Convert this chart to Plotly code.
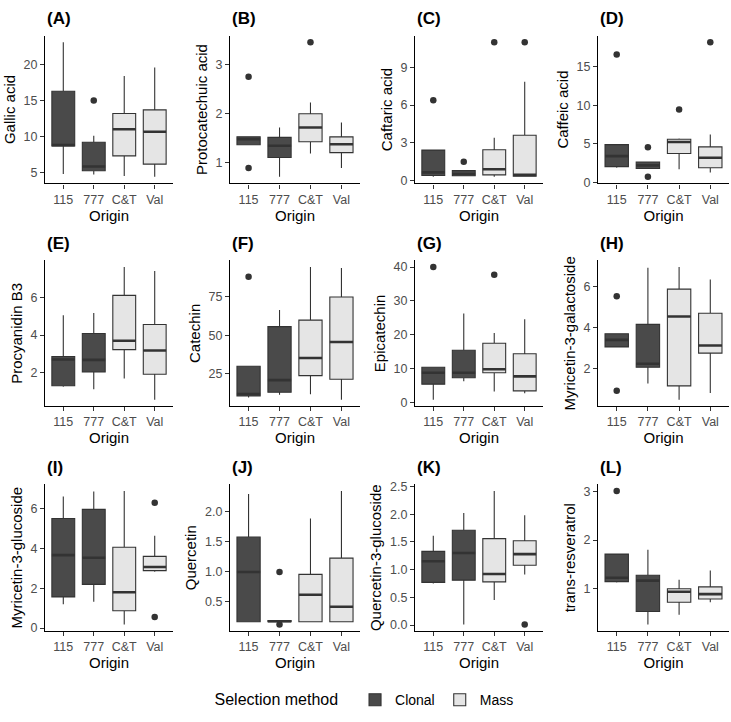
import plotly.graph_objects as go

# ---------------- data ----------------
origins = ["115", "777", "C&T", "Val"]
methods = ["Clonal", "Clonal", "Mass", "Mass"]
compounds = ["Gallic acid", "Protocatechuic acid", "Caftaric acid", "Caffeic acid",
             "Procyanidin B3", "Catechin", "Epicatechin", "Myricetin-3-galactoside",
             "Myricetin-3-glucoside", "Quercetin", "Quercetin-3-glucoside", "trans-resveratrol"]
tags = ["(A)", "(B)", "(C)", "(D)", "(E)", "(F)", "(G)", "(H)", "(I)", "(J)", "(K)", "(L)"]
y_dticks = [5, 1, 3, 5, 2, 25, 10, 2, 2, 0.5, 0.5, 1]
y_formats = ["", "", "", "", "", "", "", "", "", ".1f", ".1f", ""]

# rows: lower whisker, Q1, median, Q3, upper whisker ; columns: 115, 777, C&T, Val
gallic_acid = [[4.8, 4.7, 4.5, 4.4], [8.7, 5.24, 7.3, 6.15], [8.8, 5.83, 11.0, 10.65],
               [16.3, 9.2, 13.2, 13.7], [23.1, 10.1, 18.4, 19.6]]
gallic_acid_out = [(1, 15.0)]

protocatechuic_acid = [[1.37, 0.72, 1.19, 0.9], [1.37, 1.11, 1.43, 1.21], [1.48, 1.35, 1.72, 1.38],
                       [1.53, 1.52, 2.0, 1.53], [1.53, 1.72, 2.23, 1.82]]
protocatechuic_acid_out = [(0, 2.75), (0, 0.9), (2, 3.45)]

caftaric_acid = [[0.3, 0.35, 0.3, 0.3], [0.4, 0.38, 0.45, 0.35], [0.65, 0.52, 0.9, 0.45],
                 [2.42, 0.79, 2.45, 3.6], [2.42, 0.79, 3.4, 7.85]]
caftaric_acid_out = [(0, 6.39), (1, 1.5), (2, 11.0), (3, 11.0)]

caffeic_acid = [[1.9, 1.75, 1.7, 1.28], [2.04, 1.8, 3.74, 1.9], [3.4, 2.2, 5.23, 3.2],
                [4.9, 2.64, 5.6, 4.6], [4.9, 2.65, 5.7, 6.2]]
caffeic_acid_out = [(0, 16.6), (1, 4.55), (1, 0.72), (2, 9.45), (3, 18.2)]

procyanidin_b3 = [[1.27, 1.13, 1.7, 0.58], [1.32, 2.05, 3.23, 1.93], [2.71, 2.69, 3.7, 3.18],
                  [2.87, 4.08, 6.1, 4.56], [5.05, 5.17, 7.6, 7.39]]
procyanidin_b3_out = []

catechin = [[9.9, 11.6, 12.0, 8.4], [10.9, 13.2, 23.9, 21.6], [12.0, 21.0, 35.3, 45.6],
            [30.0, 55.5, 59.7, 74.6], [30.0, 66.2, 93.9, 93.3]]
catechin_out = [(0, 87.6)]

epicatechin = [[0.8, 6.25, 3.2, 2.7], [5.4, 7.3, 8.75, 3.4], [8.75, 8.75, 9.8, 7.7],
               [10.4, 15.4, 17.5, 14.4], [10.4, 26.25, 20.5, 24.6]]
epicatechin_out = [(0, 40.0), (2, 37.7)]

myricetin_3_galactoside = [[3.07, 1.3, 0.51, 0.83], [3.07, 2.08, 1.18, 2.77], [3.41, 2.25, 4.54, 3.14],
                           [3.71, 4.16, 5.87, 4.7], [3.71, 6.91, 6.94, 6.33]]
myricetin_3_galactoside_out = [(0, 5.52), (0, 0.94)]

myricetin_3_glucoside = [[1.2, 1.33, 0.18, 2.84], [1.57, 2.2, 0.87, 2.89], [3.67, 3.54, 1.8, 3.07],
                         [5.51, 5.97, 4.07, 3.61], [6.62, 6.87, 6.9, 4.64]]
myricetin_3_glucoside_out = [(3, 6.3), (3, 0.56)]

quercetin = [[0.17, 0.17, 0.17, 0.17], [0.17, 0.17, 0.17, 0.17], [1.0, 0.18, 0.62, 0.42],
             [1.58, 0.19, 0.96, 1.23], [2.30, 0.19, 1.89, 2.35]]
quercetin_out = [(1, 1.0), (1, 0.125)]

quercetin_3_glucoside = [[0.75, 0.01, 0.45, 0.91], [0.77, 0.81, 0.78, 1.08], [1.15, 1.3, 0.92, 1.28],
                         [1.33, 1.71, 1.56, 1.52], [1.61, 2.02, 2.42, 1.98]]
quercetin_3_glucoside_out = [(3, 0.01)]

trans_resveratrol = [[1.12, 0.25, 0.45, 0.71], [1.14, 0.52, 0.71, 0.78], [1.22, 1.16, 0.93, 0.88],
                     [1.71, 1.27, 0.99, 1.03], [1.71, 1.8, 1.18, 1.37]]
trans_resveratrol_out = [(0, 3.02)]

panel_stats = [gallic_acid, protocatechuic_acid, caftaric_acid, caffeic_acid,
               procyanidin_b3, catechin, epicatechin, myricetin_3_galactoside,
               myricetin_3_glucoside, quercetin, quercetin_3_glucoside, trans_resveratrol]
panel_outliers = [gallic_acid_out, protocatechuic_acid_out, caftaric_acid_out, caffeic_acid_out,
                  procyanidin_b3_out, catechin_out, epicatechin_out, myricetin_3_galactoside_out,
                  myricetin_3_glucoside_out, quercetin_out, quercetin_3_glucoside_out,
                  trans_resveratrol_out]

# ---------------- layout geometry ----------------
W, H = 731, 722
col_px = [(45, 173), (230, 360), (415, 543), (598, 729)]
row_px = [(32, 182), (260, 408), (487, 636)]
FILL = {"Clonal": "#4A4A4A", "Mass": "#E5E5E5"}
LINE = "#333333"
BOXW = 0.75
FONT = "Liberation Sans, Arial, sans-serif"

fig = go.Figure()
layout = dict(width=W, height=H, margin=dict(l=0, r=0, t=0, b=0),
              paper_bgcolor="white", plot_bgcolor="white",
              font=dict(family=FONT, color="black"), showlegend=True)
annotations = []

for i, (stats, outs) in enumerate(zip(panel_stats, panel_outliers)):
    r, c = divmod(i, 4)
    ax = "" if i == 0 else str(i + 1)
    xa, ya = "x" + ax, "y" + ax
    x0, x1 = col_px[c]
    y0, y1 = row_px[r]
    low, q1, med, q3, up = stats
    for m in ["Clonal", "Mass"]:
        idx = [k for k in range(4) if methods[k] == m]
        fig.add_trace(go.Box(
            x=idx, q1=[q1[k] for k in idx], median=[med[k] for k in idx],
            q3=[q3[k] for k in idx], lowerfence=[low[k] for k in idx],
            upperfence=[up[k] for k in idx], width=BOXW, whiskerwidth=0,
            fillcolor=FILL[m], line=dict(color=LINE, width=1.1), boxpoints=False,
            name=m, legendgroup=m, showlegend=(i == 0), xaxis=xa, yaxis=ya,
            hoverinfo="skip"))
    mx, my = [], []
    for k in range(4):
        mx += [k - BOXW / 2, k + BOXW / 2, None]
        my += [med[k], med[k], None]
    fig.add_trace(go.Scatter(x=mx, y=my, mode="lines", line=dict(color=LINE, width=2.6),
                             showlegend=False, xaxis=xa, yaxis=ya, hoverinfo="skip"))
    if outs:
        fig.add_trace(go.Scatter(x=[o[0] for o in outs], y=[o[1] for o in outs], mode="markers",
                                 marker=dict(color=LINE, size=6.5), showlegend=False,
                                 xaxis=xa, yaxis=ya, hoverinfo="skip"))
    vals = [v for row in stats for v in row] + [o[1] for o in outs]
    vmin, vmax = min(vals), max(vals)
    span = vmax - vmin
    yr = [vmin - 0.05 * span, vmax + 0.05 * span]
    common = dict(showgrid=False, zeroline=False, showline=True, linecolor="black",
                  linewidth=1.1, ticks="outside", ticklen=4, tickcolor=LINE, tickwidth=1,
                  tickfont=dict(size=12.5, color="#4D4D4D", family=FONT))
    layout["xaxis" + ax] = dict(common, domain=[x0 / W, x1 / W], anchor=ya,
                                range=[-0.6, 3.6], tickmode="array", tickvals=[0, 1, 2, 3],
                                ticktext=origins,
                                title=dict(text="Origin", font=dict(size=15, color="black"),
                                           standoff=2))
    layout["yaxis" + ax] = dict(common, domain=[1 - y1 / H, 1 - y0 / H], anchor=xa,
                                range=yr, dtick=y_dticks[i], tick0=0,
                                tickformat=y_formats[i],
                                title=dict(text=compounds[i], font=dict(size=15, color="black"),
                                           standoff=4))
    annotations.append(dict(text="<b>%s</b>" % tags[i], xref="paper", yref="paper",
                            x=x0 / W, y=1 - (y0 - 17) / H, xanchor="left", yanchor="middle",
                            showarrow=False, font=dict(size=17, color="black", family=FONT)))

layout["annotations"] = annotations
layout["legend"] = dict(orientation="h", x=0.5, xanchor="center", y=1 - 706 / H,
                        yanchor="middle", title=dict(text="Selection method  ", side="left",
                                                     font=dict(size=16)),
                        font=dict(size=14), itemwidth=30)
fig.update_layout(**layout)
fig.write_html("out.html")
